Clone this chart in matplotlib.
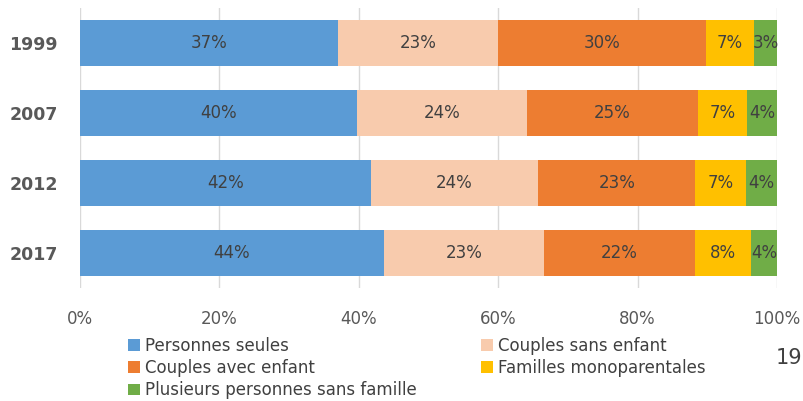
import matplotlib.pyplot as plt
import numpy as np

years = ['1999', '2007', '2012', '2017']
categories = ['Personnes seules', 'Couples sans enfant', 'Couples avec enfant',
              'Familles monoparentales', 'Plusieurs personnes sans famille']
# shares in %, one list per category (rows follow years)
personnes_seules = [37.0, 39.7, 41.7, 43.6]
couples_sans = [23.0, 24.4, 24.0, 22.9]
couples_avec = [29.8, 24.6, 22.6, 21.8]
familles_mono = [6.9, 7.0, 7.3, 8.0]
plusieurs = [3.3, 4.3, 4.4, 3.7]
series = [personnes_seules, couples_sans, couples_avec, familles_mono, plusieurs]
colors = ['#5B9BD5', '#F8CBAD', '#ED7D31', '#FFC000', '#70AD47']

plt.rcParams['font.family'] = ['Liberation Sans Narrow', 'DejaVu Sans']

fig = plt.figure(figsize=(8.04, 4.01), dpi=100)
ax = fig.add_axes([80/804, 1-288/401, 697/804, 280/401])

y = np.arange(len(years))
left = np.zeros(len(years))
handles = []
for vals, name, col in zip(series, categories, colors):
       vals = np.array(vals)
       b = ax.barh(y, vals, left=left, height=0.67, color=col, label=name, zorder=2)
       handles.append(b)
       for yi, (l, v) in enumerate(zip(left, vals)):
              ax.text(l + v/2, yi, '%d%%' % round(v), ha='center', va='center',
                      fontsize=12, color='#404040', zorder=3)
       left += vals

ax.set_xlim(0, 100)
ax.set_ylim(3.5, -0.5)
ax.set_xticks(np.arange(0, 101, 20))
ax.set_xticklabels(['%d%%' % t for t in range(0, 101, 20)], fontsize=12, color='#595959')
ax.set_yticks(y)
ax.set_yticklabels(years, fontsize=12.5, fontweight='bold', color='#595959')
ax.tick_params(axis='y', length=0, pad=16)
ax.tick_params(axis='x', length=0, pad=16)
ax.grid(axis='x', color='#D9D9D9', linewidth=1, zorder=0)
for s in ax.spines.values():
       s.set_visible(False)

order = [0, 2, 4, 1, 3]
fig.legend([handles[i] for i in order], [categories[i] for i in order],
           loc='upper left', bbox_to_anchor=(128/804, 1-337/401), ncol=2,
           frameon=False, fontsize=12, handlelength=0.7, handleheight=0.7,
           handletextpad=0.3, labelspacing=0.25, columnspacing=3.9,
           labelcolor='#404040', borderpad=0, borderaxespad=0)

fig.text(776/804, 1-358/401, '19', fontsize=15, color='#404040', ha='left', va='center')

fig.savefig('out.png', dpi=100)
